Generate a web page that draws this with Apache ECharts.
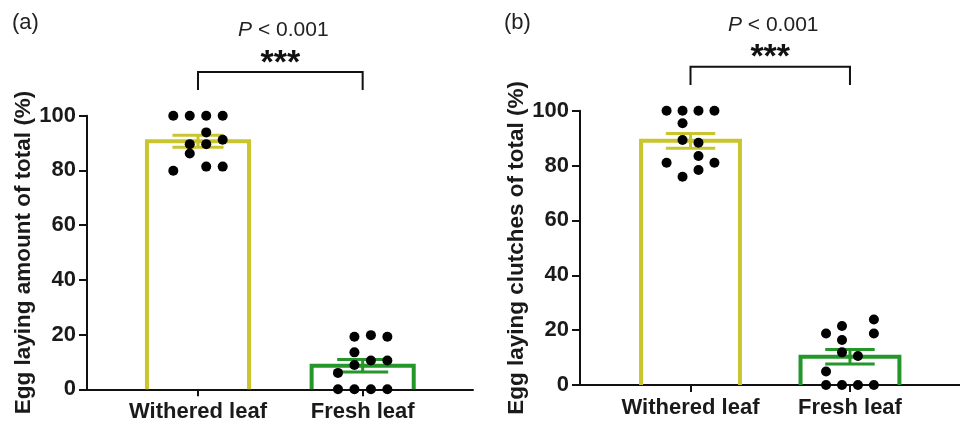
<!DOCTYPE html>
<html>
<head>
<meta charset="utf-8">
<script src="https://cdn.jsdelivr.net/npm/echarts@6/dist/echarts.min.js"></script>
<style>
  html, body { margin: 0; padding: 0; background: #fff; }
  #main { width: 960px; height: 426px; }
</style>
</head>
<body>
<div id="main"></div>
<script>
// categories and tick values
var categories = ['Withered leaf', 'Fresh leaf'];
var yTicks = [0, 20, 40, 60, 80, 100];

// panel (a): egg laying amount, mean and SEM per category
var meanA = [90.7, 8.6];
var semA = [2.2, 2.3];
// individual points, slot = column in the dot cluster (0..3)
var witheredA = [100, 100, 100, 100, 93.9, 89.6, 89.6, 91.2, 86.2, 79.9, 81.4, 81.4];
var witheredSlotA = [0, 1, 2, 3, 2, 1, 2, 3, 1, 0, 2, 3];
var freshA = [19.2, 19.8, 19.2, 13.5, 10.5, 10.5, 8.9, 6.0, 0, 0, 0, 0];
var freshSlotA = [1, 2, 3, 1, 2, 3, 1, 0, 0, 1, 2, 3];

// panel (b): egg laying clutches
var meanB = [89.0, 10.3];
var semB = [2.7, 2.6];
var witheredB = [100, 100, 100, 100, 95.4, 89.3, 88.3, 83.5, 81.0, 81.0, 78.4, 75.9];
var witheredSlotB = [0, 1, 2, 3, 1, 1, 2, 2, 0, 3, 2, 1];
var freshB = [23.9, 21.5, 18.8, 18.8, 16.4, 11.9, 10.6, 4.9, 0, 0, 0, 0];
var freshSlotB = [3, 1, 0, 3, 1, 1, 2, 0, 0, 1, 2, 3];

var pText = '{i|P} < 0.001';
var stars = '***';

var barColors = ['#c9c52e', '#24962a'];
var FONT = '"Liberation Sans", Arial, Helvetica, sans-serif';

function dots(values, slots, pos) {
  var out = [];
  for (var i = 0; i < values.length; i++) {
    out.push([pos + (slots[i] - 1.5) * 0.1, values[i]]);
  }
  return out;
}

function barRows(means, sems) {
  return means.map(function (m, i) { return [i + 1, m, sems[i], i]; });
}

// outline bar + error bar
function renderBar(params, api) {
  var x = api.value(0), m = api.value(1), s = api.value(2);
  var c = barColors[api.value(3)];
  var hw = 0.31, cap = 0.155;
  var p0 = api.coord([x - hw, 0]), p1 = api.coord([x - hw, m]);
  var p2 = api.coord([x + hw, m]), p3 = api.coord([x + hw, 0]);
  var eTop = api.coord([x, m + s]), eBot = api.coord([x, m - s]);
  var cl = api.coord([x - cap, m + s]), cr = api.coord([x + cap, m + s]);
  var bl = api.coord([x - cap, m - s]), br = api.coord([x + cap, m - s]);
  return {
    type: 'group',
    children: [
      { type: 'polyline', shape: { points: [p0, p1, p2, p3] },
        style: { stroke: c, lineWidth: 4, fill: null } },
      { type: 'line', shape: { x1: eTop[0], y1: eTop[1], x2: eBot[0], y2: eBot[1] },
        style: { stroke: c, lineWidth: 3 } },
      { type: 'line', shape: { x1: cl[0], y1: cl[1], x2: cr[0], y2: cr[1] },
        style: { stroke: c, lineWidth: 3 } },
      { type: 'line', shape: { x1: bl[0], y1: bl[1], x2: br[0], y2: br[1] },
        style: { stroke: c, lineWidth: 3 } }
    ]
  };
}

// significance bracket and labels
function renderSig(params, api) {
  var a = api.coord([1, 116]), b = api.coord([2, 116]);
  var a0 = api.coord([1, 109.4]), b0 = api.coord([2, 109.4]);
  var mid = (a[0] + b[0]) / 2;
  var st = api.coord([1.5, 119.2]);
  var pp = api.coord([1.5, 131.2]);
  return {
    type: 'group',
    children: [
      { type: 'polyline', shape: { points: [a0, a, b, b0] },
        style: { stroke: '#111', lineWidth: 2, fill: null } },
      { type: 'text', x: mid, y: st[1],
        style: { text: stars, fontSize: 34, fontWeight: 'bold', fontFamily: FONT,
                 fill: '#111', align: 'center', verticalAlign: 'middle' } },
      { type: 'text', x: mid + 3, y: pp[1],
        style: { text: pText, fontSize: 21, fontFamily: FONT, fill: '#222',
                 align: 'center', verticalAlign: 'middle',
                 rich: { i: { fontStyle: 'italic', fontSize: 21, fontFamily: FONT, fill: '#222' } } } }
    ]
  };
}

function xAxisOpt(idx, min, max) {
  return {
    gridIndex: idx, type: 'value', min: min, max: max,
    splitLine: { show: false },
    axisLine: { show: true, lineStyle: { color: '#111', width: 2 } },
    axisTick: { show: true, customValues: [1, 2], length: 7, lineStyle: { color: '#111', width: 2 } },
    axisLabel: {
      customValues: [1, 2], margin: 12,
      fontSize: 22, fontWeight: 'bold', fontFamily: FONT, color: '#1a1a1a',
      formatter: function (v) { return categories[Math.round(v) - 1] || ''; }
    }
  };
}

function yAxisOpt(idx, name, gap) {
  return {
    gridIndex: idx, type: 'value', min: 0, max: 100, interval: 20,
    name: name, nameLocation: 'middle', nameGap: gap,
    nameTextStyle: { fontSize: 22.5, fontWeight: 'bold', fontFamily: FONT, color: '#1a1a1a' },
    splitLine: { show: false },
    axisLine: { show: true, lineStyle: { color: '#111', width: 2 } },
    axisTick: { show: true, length: 8, lineStyle: { color: '#111', width: 2 } },
    axisLabel: {
      margin: 11, fontSize: 22, fontWeight: 'bold', fontFamily: FONT, color: '#1a1a1a',
      customValues: yTicks
    }
  };
}

var chart = echarts.init(document.getElementById('main'), null, { renderer: 'canvas' });

chart.setOption({
  backgroundColor: '#fff',
  animation: false,
  grid: [
    { left: 87, top: 115.7, width: 386, height: 273.6 },
    { left: 580, top: 110.7, width: 393, height: 274.3 }
  ],
  xAxis: [xAxisOpt(0, 0.326, 2.67), xAxisOpt(1, 0.307, 2.69)],
  yAxis: [
    yAxisOpt(0, 'Egg laying amount of total (%)', 45),
    yAxisOpt(1, 'Egg laying clutches of total (%)', 43)
  ],
  graphic: [
    { type: 'text', left: 12, top: 12,
      style: { text: '(a)', fontSize: 22, fontFamily: FONT, fill: '#222' } },
    { type: 'text', left: 504, top: 12,
      style: { text: '(b)', fontSize: 22, fontFamily: FONT, fill: '#222' } }
  ],
  series: [
    { type: 'custom', xAxisIndex: 0, yAxisIndex: 0, renderItem: renderBar,
      data: barRows(meanA, semA), z: 2 },
    { type: 'custom', xAxisIndex: 1, yAxisIndex: 1, renderItem: renderBar,
      data: barRows(meanB, semB), z: 2 },
    { type: 'scatter', xAxisIndex: 0, yAxisIndex: 0, symbolSize: 10,
      itemStyle: { color: '#000', opacity: 1 }, z: 5,
      data: dots(witheredA, witheredSlotA, 1).concat(dots(freshA, freshSlotA, 2)) },
    { type: 'scatter', xAxisIndex: 1, yAxisIndex: 1, symbolSize: 10,
      itemStyle: { color: '#000', opacity: 1 }, z: 5,
      data: dots(witheredB, witheredSlotB, 1).concat(dots(freshB, freshSlotB, 2)) },
    { type: 'custom', xAxisIndex: 0, yAxisIndex: 0, renderItem: renderSig,
      data: [[1.5, 50]], clip: false, silent: true },
    { type: 'custom', xAxisIndex: 1, yAxisIndex: 1, renderItem: renderSig,
      data: [[1.5, 50]], clip: false, silent: true }
  ]
});
</script>
</body>
</html>
